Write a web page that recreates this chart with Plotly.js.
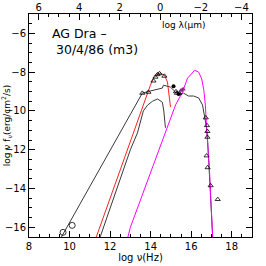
<!DOCTYPE html>
<html>
<head>
<meta charset="utf-8">
<script src="https://cdn.plot.ly/plotly-3.0.1.min.js"></script>
<style>html,body{margin:0;padding:0;background:#fff;}#chart{width:266px;height:266px;}</style>
</head>
<body>
<div id="chart"></div>
<script>
// Composite SED (upper black curve)
const totalX = [9.60, 13.59, 13.99, 14.39, 14.58, 14.63, 14.88, 14.98, 15.23, 15.38, 15.62, 15.87, 16.12, 16.37, 16.56, 16.66, 16.76, 16.81, 16.86, 16.96, 17.06];
const totalY = [-16.5, -9.08, -8.97, -8.87, -8.82, -8.67, -8.72, -8.77, -9.03, -9.13, -9.08, -9.23, -9.23, -9.33, -9.69, -10.21, -10.87, -11.49, -12.51, -13.85, -16.5];
// Red blackbody (giant)
const redX = [11.32, 13.15, 13.74, 13.99, 14.14, 14.34, 14.47, 14.68, 14.83, 14.88, 14.98];
const redY = [-16.5, -11.13, -9.33, -8.67, -8.31, -8.10, -8.05, -8.15, -8.51, -9.03, -9.79];
// Lower black (cool component)
const coolX = [11.51, 13.0, 13.35, 13.64, 13.85, 14.09, 14.34, 14.58, 14.65, 14.70, 14.73];
const coolY = [-16.5, -12.0, -11.13, -10.0, -9.7, -9.5, -9.38, -9.55, -10.0, -10.5, -10.87];
// Magenta blackbody (hot component)
const hotX = [12.88, 13.0, 15.23, 15.57, 15.82, 16.07, 16.17, 16.37, 16.52, 16.62, 16.70, 16.76, 16.90, 17.06];
const hotY = [-16.5, -16.0, -9.69, -9.03, -8.31, -8.0, -7.90, -8.0, -8.35, -8.9, -9.7, -10.9, -13.0, -16.5];
// Observed points
const triX = [13.59, 13.89, 14.14, 14.24, 14.34, 14.44, 14.68, 15.25, 15.30, 15.42, 16.72, 16.78, 16.80, 16.80, 16.76, 16.81, 16.96, 17.31];
const triY = [-9.08, -9.03, -8.45, -8.25, -8.12, -8.07, -8.20, -9.00, -9.08, -9.10, -10.35, -10.75, -11.05, -11.35, -12.31, -12.92, -13.85, -14.56];
const dotX = [15.13, 15.38];
const dotY = [-8.72, -9.13];
const circX = [9.68, 10.13];
const circY = [-16.26, -15.90];
const uvX = [15.50, 15.60];
const uvY = [-8.95, -8.88];
// Axis ticks
const nuTicks = [8, 10, 12, 14, 16, 18];
const lamTicks = [6, 4, 2, 0, -2, -4];
const fluxTicks = [-6, -8, -10, -12, -14, -16];
const logC = 14.477; // log10(c in micron/s)

const dark = '#3a3a3a';
const traces = [
  {x: totalX, y: totalY, mode: 'lines', line: {color: dark, width: 1}, hoverinfo: 'none'},
  {x: coolX, y: coolY, mode: 'lines', line: {color: dark, width: 1}},
  {x: redX, y: redY, mode: 'lines', line: {color: '#ff2020', width: 1}},
  {x: hotX, y: hotY, mode: 'lines', line: {color: '#ff00ff', width: 1}},
  {x: triX, y: triY, mode: 'markers', marker: {symbol: 'triangle-up-open', size: 4.5, color: '#000', line: {width: 0.8}}},
  {x: dotX, y: dotY, mode: 'markers', marker: {symbol: 'circle', size: 4, color: '#000'}},
  {x: circX, y: circY, mode: 'markers', marker: {symbol: 'circle-open', size: 6, color: '#000', line: {width: 0.8}}},
  {x: uvX, y: uvY, mode: 'markers', marker: {symbol: 'triangle-up', size: 5, color: '#8a2a8a'}},
  {x: [logC - 6, logC + 4], y: [-20, -20], xaxis: 'x2', mode: 'markers', marker: {opacity: 0}, hoverinfo: 'none'}
];
const font = {family: 'DejaVu Sans, sans-serif', size: 10, color: '#000'};
const layout = {
  width: 266, height: 266,
  margin: {l: 29, r: 14, t: 14, b: 29},
  showlegend: false,
  paper_bgcolor: '#fff', plot_bgcolor: '#fff',
  font: font,
  xaxis: {
    range: [8, 19], tickvals: nuTicks, ticks: 'inside', ticklen: 6, tickwidth: 1, tickcolor: '#000',
    showline: true, linecolor: '#000', linewidth: 1, mirror: true, showgrid: false, zeroline: false,
    minor: {dtick: 0.5, tick0: 0, ticks: 'inside', ticklen: 3, tickcolor: '#000', showgrid: false},
    tickfont: {size: 10}, ticklabelstandoff: 0,
    title: {text: 'log \u03bd(Hz)', font: {size: 10}, standoff: 2}
  },
  xaxis2: {
    overlaying: 'x', side: 'top', range: [logC - 8, logC - 19], tickvals: lamTicks,
    ticks: 'inside', ticklen: 6, tickcolor: '#000', showgrid: false, zeroline: false, showline: false,
    minor: {dtick: 0.5, tick0: 0, ticks: 'inside', ticklen: 3, tickcolor: '#000', showgrid: false},
    tickfont: {size: 10}
  },
  yaxis: {
    range: [-16.5, -5], tickvals: fluxTicks, ticks: 'inside', ticklen: 6, tickcolor: '#000',
    showline: true, linecolor: '#000', linewidth: 1, mirror: 'ticks', showgrid: false, zeroline: false,
    minor: {dtick: 0.5, tick0: 0, ticks: 'inside', ticklen: 3, tickcolor: '#000', showgrid: false},
    tickfont: {size: 10},
    title: {text: 'log \u03bd f<sub>\u03bd</sub>(erg/cm<sup>2</sup>/s)', font: {size: 9}, standoff: 2}
  },
  annotations: [
    {xref: 'paper', yref: 'paper', x: 0.094, y: 0.877, xanchor: 'left', yanchor: 'middle', align: 'left',
     text: 'AG Dra \u2013<br>\u00a030/4/86 (m3)', showarrow: false, font: {size: 12.5, family: 'DejaVu Sans, sans-serif'}},
    {xref: 'paper', yref: 'paper', x: 0.587, y: 0.951, xanchor: 'left', yanchor: 'middle', text: 'log \u03bb(\u03bcm)', showarrow: false, font: {size: 9}}
  ]
};
Plotly.newPlot('chart', traces, layout, {staticPlot: true, displayModeBar: false});
</script>
</body>
</html>
